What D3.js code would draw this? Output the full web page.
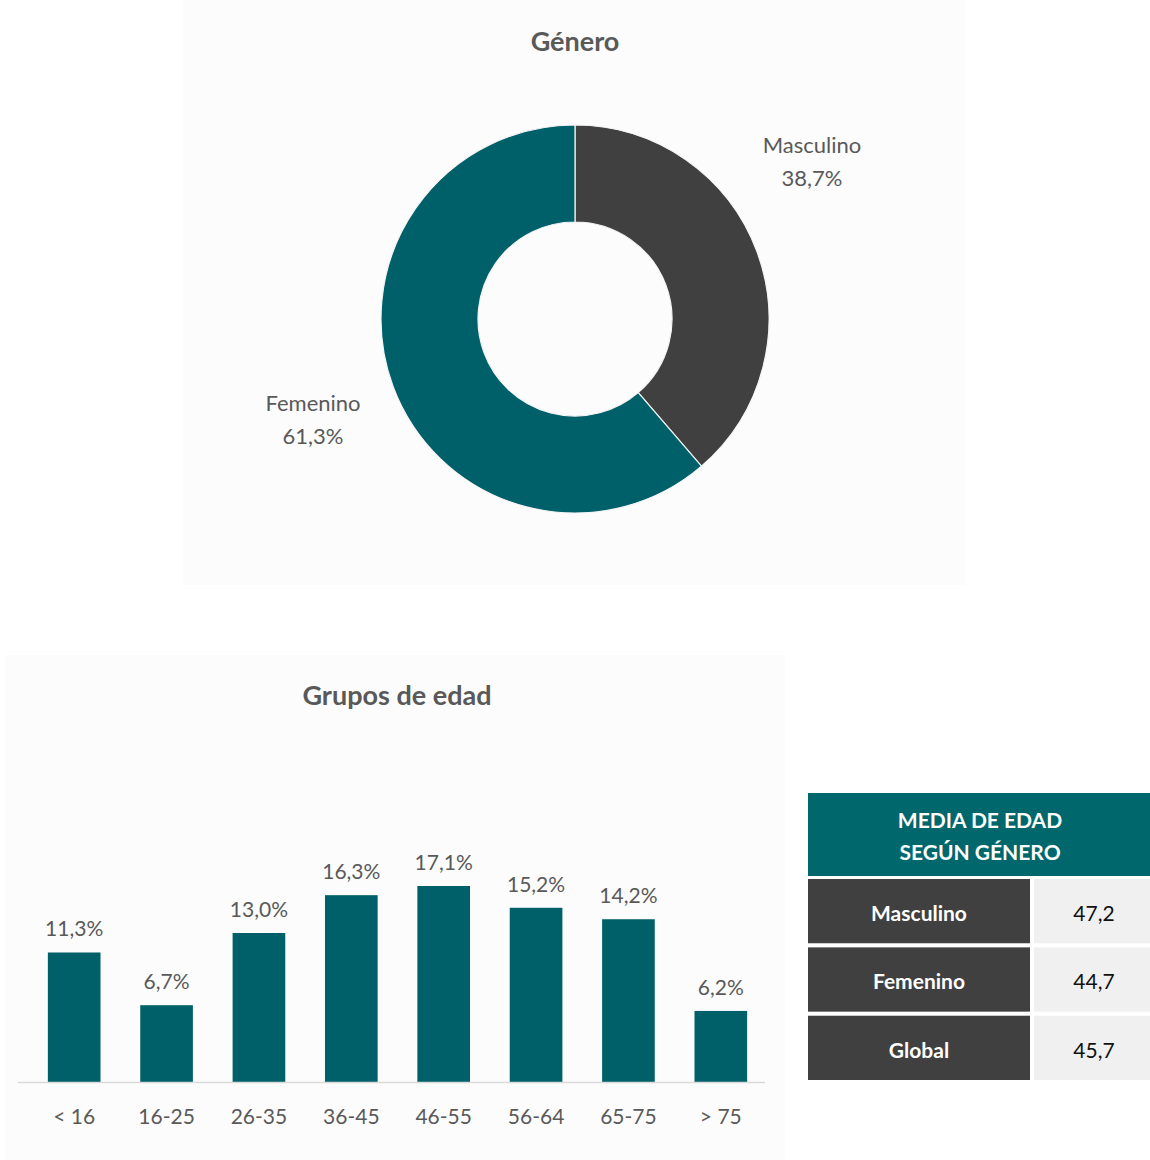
<!DOCTYPE html>
<html lang="es">
<head>
<meta charset="utf-8">
<title>Género y grupos de edad</title>
<script src="https://d3js.org/d3.v7.min.js"></script>
<style>
  body { margin: 0; background: #fff; }
  svg { display: block; font-family: Lato, "Noto Sans", sans-serif; }
  .title { font-size: 27px; font-weight: bold; fill: #595959; }
  .lbl { font-size: 22px; fill: #595959; }
  .axis text { font-size: 21px; fill: #595959; font-family: Lato, sans-serif; }
</style>
</head>
<body>
<svg id="chart" width="1150" height="1160"></svg>
<script>
// donut data
var genderLabels = ["Masculino", "Femenino"];
var genderValues = [38.7, 61.3];
var genderColors = ["#404040", "#00606a"];

// bar chart data
var ageGroups = ["< 16", "16-25", "26-35", "36-45", "46-55", "56-64", "65-75", "> 75"];
var ageValues = [11.3, 6.7, 13.0, 16.3, 17.1, 15.2, 14.2, 6.2];

// table data
var tableHeader = ["MEDIA DE EDAD", "SEGÚN GÉNERO"];
var tableLabels = ["Masculino", "Femenino", "Global"];
var tableValues = [47.2, 44.7, 45.7];

var fmt = function(v) { return v.toFixed(1).replace(".", ","); };
var svg = d3.select("#chart");

// panel backgrounds
svg.append("rect").attr("x", 183).attr("y", 0).attr("width", 782).attr("height", 585).attr("fill", "#fcfcfc");
svg.append("rect").attr("x", 5).attr("y", 655).attr("width", 780).attr("height", 505).attr("fill", "#fcfcfc");

// ---- donut ----
svg.append("text").attr("class", "title").attr("x", 575).attr("y", 51)
  .attr("text-anchor", "middle").text("Género");

var pie = d3.pie().sort(null).value(function(d) { return d; });
var arc = d3.arc().innerRadius(97).outerRadius(194);
var g = svg.append("g").attr("transform", "translate(575,319)");
var arcs = pie(genderValues);
g.selectAll("path").data(arcs).enter().append("path")
  .attr("d", arc)
  .attr("fill", function(d, i) { return genderColors[i]; })
  .attr("stroke", "#f4f4f4").attr("stroke-width", 1.2);

var labelPos = [[237, -166], [-262, 92]];
g.selectAll("text.name").data(arcs).enter().append("text")
  .attr("class", "lbl").attr("text-anchor", "middle")
  .attr("x", function(d, i) { return labelPos[i][0]; })
  .attr("y", function(d, i) { return labelPos[i][1]; })
  .text(function(d, i) { return genderLabels[i]; });
g.selectAll("text.pct").data(arcs).enter().append("text")
  .attr("class", "lbl").attr("text-anchor", "middle")
  .attr("x", function(d, i) { return labelPos[i][0]; })
  .attr("y", function(d, i) { return labelPos[i][1] + 33; })
  .text(function(d) { return fmt(d.data) + "%"; });

// ---- bars ----
svg.append("text").attr("class", "title").attr("x", 397).attr("y", 705)
  .attr("text-anchor", "middle").text("Grupos de edad");

var x = d3.scaleBand().domain(ageGroups).range([28, 767]).paddingInner(0.43).paddingOuter(0.215);
var y = d3.scaleLinear().domain([0, 17.1]).range([1082, 886]);

svg.selectAll("rect.bar").data(ageValues).enter().append("rect")
  .attr("class", "bar")
  .attr("x", function(d, i) { return x(ageGroups[i]); })
  .attr("y", function(d) { return y(d); })
  .attr("width", x.bandwidth())
  .attr("height", function(d) { return y(0) - y(d); })
  .attr("fill", "#00606a");

svg.selectAll("text.val").data(ageValues).enter().append("text")
  .attr("class", "lbl").attr("text-anchor", "middle")
  .style("font-size", "21px")
  .attr("x", function(d, i) { return x(ageGroups[i]) + x.bandwidth() / 2; })
  .attr("y", function(d) { return y(d) - 16; })
  .text(function(d) { return fmt(d) + "%"; });

var ax = svg.append("g").attr("class", "axis")
  .attr("transform", "translate(0,1082)")
  .call(d3.axisBottom(x).tickSize(0).tickPadding(27));
ax.select(".domain").attr("stroke", "#d9d9d9").attr("stroke-width", 1.5)
  .attr("d", "M18,0.5H765");

// ---- table ----
var tx = 808, tw = 342, labW = 222, gap = 4;
svg.append("rect").attr("x", tx).attr("y", 793).attr("width", tw).attr("height", 83).attr("fill", "#00676d");
svg.selectAll("text.hdr").data(tableHeader).enter().append("text")
  .attr("x", 980).attr("y", function(d, i) { return 828 + i * 32; })
  .attr("text-anchor", "middle").attr("fill", "#fff")
  .style("font-size", "21px").style("font-weight", "bold")
  .text(function(d) { return d; });

var rowY = d3.scaleBand().domain(tableLabels).range([879, 1080]).paddingInner(0.06);
var rows = svg.selectAll("g.row").data(tableLabels).enter().append("g")
  .attr("transform", function(d) { return "translate(0," + rowY(d) + ")"; });
rows.append("rect").attr("x", tx).attr("width", labW).attr("height", rowY.bandwidth()).attr("fill", "#404040");
rows.append("rect").attr("x", tx + labW + gap).attr("width", tw - labW - gap).attr("height", rowY.bandwidth()).attr("fill", "#f0f0f0");
rows.append("text").attr("x", tx + labW / 2).attr("y", rowY.bandwidth() / 2 + 10)
  .attr("text-anchor", "middle").attr("fill", "#fff")
  .style("font-size", "21px").style("font-weight", "bold")
  .text(function(d) { return d; });
rows.append("text").attr("x", 1094).attr("y", rowY.bandwidth() / 2 + 10)
  .attr("text-anchor", "middle").attr("fill", "#111")
  .style("font-size", "21px")
  .text(function(d, i) { return fmt(tableValues[i]); });
</script>
</body>
</html>
